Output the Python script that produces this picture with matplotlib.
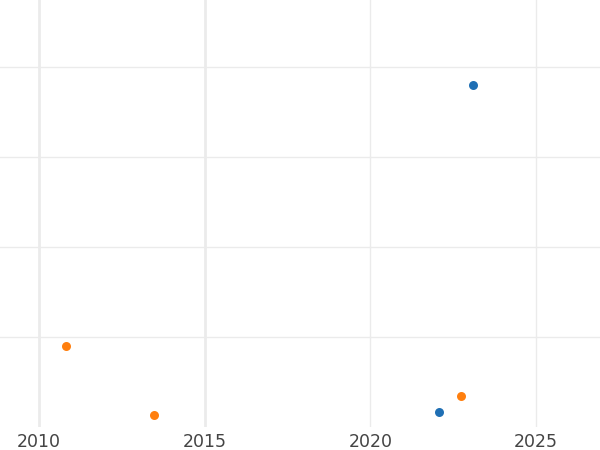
import matplotlib
matplotlib.use("Agg")
import matplotlib.pyplot as plt

# series values
blue_x = [2023.1, 2022.07]
blue_y = [3.8, 0.167]
orange_x = [2010.81, 2013.47, 2022.74]
orange_y = [0.9, 0.133, 0.344]
x_ticks = [2010, 2015, 2020, 2025]
y_grid = [1, 2, 3, 4]

fig = plt.figure(figsize=(6, 4.5), dpi=100)
ax = fig.add_axes([0, 1 - 427 / 450, 1, 427 / 450])

ax.set_xlim(2008.82, 2026.93)
ax.set_ylim(0, 4.744)

for t in x_ticks:
    lw = 2.0 if t < 2020 else 1.0
    ax.axvline(t, color="#ebebeb", lw=lw, zorder=0)
for g in y_grid:
    ax.axhline(g, color="#ebebeb", lw=1.0, zorder=0)

ax.scatter(blue_x, blue_y, s=42, color="#1f6fb4", zorder=3, linewidths=0)
ax.scatter(orange_x, orange_y, s=42, color="#ff7f0e", zorder=3, linewidths=0)

ax.set_xticks(x_ticks)
ax.set_xticklabels([str(t) for t in x_ticks])
ax.set_yticks([])
ax.tick_params(axis="x", length=0, pad=4, labelsize=12.5, labelcolor="#444444")
for s in ax.spines.values():
    s.set_visible(False)

fig.savefig("out.png", dpi=100)
